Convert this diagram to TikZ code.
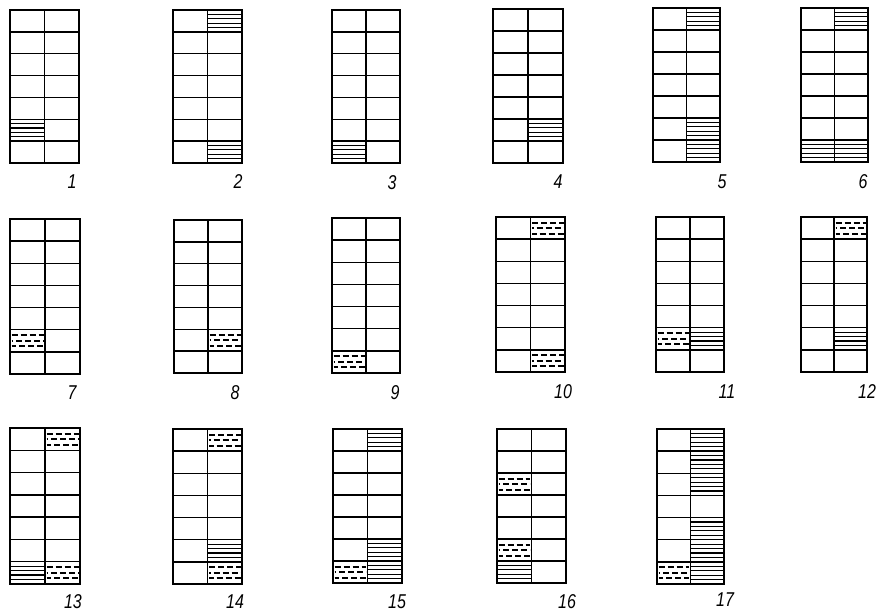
\documentclass[tikz,border=0pt]{standalone}
\usepackage{fontspec}
\newfontfamily\labfont{Liberation Sans}
\begin{document}
\begin{tikzpicture}[x=1pt,y=-1pt,
  outer/.style={line width=2.4pt},
  inner/.style={line width=1.5pt},
  hatch/.style={line width=1.2pt},
  dhatch/.style={line width=2pt,dash pattern=on 6pt off 3pt},
  lab/.style={font=\labfont\itshape\fontsize{20}{20}\selectfont,xscale=0.8}]
\useasboundingbox (0,0) rectangle (877,613);
\newcommand\setgrid[4]{%
  \gdef\gxa{#1}\gdef\gya{#2}\gdef\gxb{#3}\gdef\gyb{#4}%
  \pgfmathsetmacro\tmpw{(#3-#1)/2}\xdef\gw{\tmpw}%
  \pgfmathsetmacro\tmph{(#4-#2)/7}\xdef\gh{\tmph}}
\newcommand\scell[2]{%
  \foreach \k in {1,...,4}{%
    \draw[hatch] ({\gxa+(#1-1)*\gw},{\gya+(#2-1)*\gh+\k*\gh/5}) -- ++(\gw,0);}}
\newcommand\dcell[2]{%
  \foreach \k/\ph in {1/0,2/4.5,3/1.5}{%
    \draw[dhatch,dash phase=\ph pt] ({\gxa+(#1-1)*\gw+1.5},{\gya+(#2-1)*\gh+\k*\gh/4}) -- ++(\gw-3,0);}}
\newcommand\gridlines[4]{%
  \foreach \r in {1,...,6}{\draw[inner] (\gxa,{\gya+\r*\gh}) -- (\gxb,{\gya+\r*\gh});}
  \draw[inner] ({\gxa+\gw},\gya) -- ({\gxa+\gw},\gyb);
  \draw[outer] (\gxa,\gya) rectangle (\gxb,\gyb);
  \node[lab] (#1) at (#3,#4) {#2};}
% row 1
\setgrid{10}{10}{79}{163}\scell{1}{6}\gridlines{g1}{1}{72}{182}
\setgrid{173}{10}{242}{163}\scell{2}{1}\scell{2}{7}\gridlines{g2}{2}{238}{182}
\setgrid{332}{10}{400}{163}\scell{1}{7}\gridlines{g3}{3}{392}{183}
\setgrid{493}{9}{563}{163}\scell{2}{6}\gridlines{g4}{4}{558}{182}
\setgrid{653}{8}{720}{162}\scell{2}{1}\scell{2}{6}\scell{2}{7}\gridlines{g5}{5}{722}{182}
\setgrid{801}{8}{868}{162}\scell{2}{1}\scell{1}{7}\scell{2}{7}\gridlines{g6}{6}{863}{182}
% row 2
\setgrid{10}{219}{80}{374}\dcell{1}{6}\gridlines{g7}{7}{72}{393}
\setgrid{174}{220}{242}{373}\dcell{2}{6}\gridlines{g8}{8}{235}{393}
\setgrid{332}{218}{400}{373}\dcell{1}{7}\gridlines{g9}{9}{395}{393}
\setgrid{496}{217}{565}{372}\dcell{2}{1}\dcell{2}{7}\gridlines{g10}{10}{563}{392}
\setgrid{656}{217}{724}{372}\dcell{1}{6}\scell{2}{6}\gridlines{g11}{11}{727}{392}
\setgrid{801}{217}{867}{372}\dcell{2}{1}\scell{2}{6}\gridlines{g12}{12}{867}{392}
% row 3
\setgrid{10}{428}{80}{584}\dcell{2}{1}\scell{1}{7}\dcell{2}{7}\gridlines{g13}{13}{73}{602}
\setgrid{173}{429}{242}{584}\dcell{2}{1}\scell{2}{6}\dcell{2}{7}\gridlines{g14}{14}{235}{602}
\setgrid{333}{429}{402}{583}\scell{2}{1}\scell{2}{6}\scell{2}{7}\dcell{1}{7}\gridlines{g15}{15}{397}{602}
\setgrid{497}{429}{566}{583}\dcell{1}{3}\dcell{1}{6}\scell{1}{7}\gridlines{g16}{16}{567}{602}
\setgrid{657}{429}{724}{584}\scell{2}{1}\scell{2}{2}\scell{2}{3}\scell{2}{5}\scell{2}{6}\scell{2}{7}\dcell{1}{7}\gridlines{g17}{17}{725}{600}
\end{tikzpicture}
\end{document}
